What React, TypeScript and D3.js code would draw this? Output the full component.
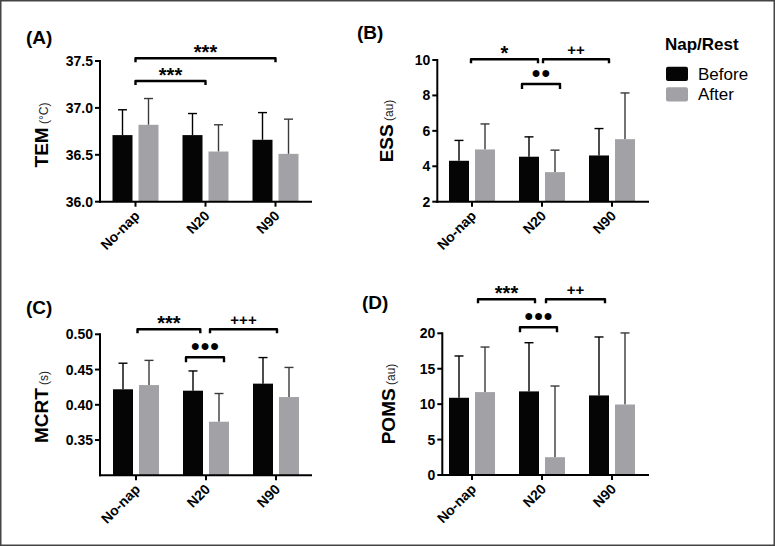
import React from 'react';
import * as d3 from 'd3';

const categories = ['No-nap', 'N20', 'N90'];
const groups = ['Before', 'After'];

const temBefore = [36.71, 36.71, 36.66];
const temBeforeSD = [0.27, 0.23, 0.29];
const temAfter = [36.82, 36.535, 36.51];
const temAfterSD = [0.28, 0.285, 0.37];
const temTicks = [36.0, 36.5, 37.0, 37.5];

const essBefore = [4.31, 4.54, 4.61];
const essBeforeSD = [1.15, 1.12, 1.52];
const essAfter = [4.95, 3.67, 5.53];
const essAfterSD = [1.44, 1.24, 2.61];
const essTicks = [2, 4, 6, 8, 10];

const mcrtBefore = [0.422, 0.42, 0.43];
const mcrtBeforeSD = [0.037, 0.028, 0.037];
const mcrtAfter = [0.428, 0.376, 0.411];
const mcrtAfterSD = [0.035, 0.04, 0.042];
const mcrtTicks = [0.35, 0.4, 0.45, 0.5];

const pomsBefore = [10.9, 11.8, 11.23];
const pomsBeforeSD = [5.9, 6.87, 8.25];
const pomsAfter = [11.7, 2.51, 9.95];
const pomsAfterSD = [6.36, 10.05, 10.1];
const pomsTicks = [0, 5, 10, 15, 20];

const legendTitle = 'Nap/Rest';

const FONT = '"Liberation Sans", Arial, sans-serif';
const COLORS: Record<string, string> = { Before: '#050505', After: '#a2a2a6' };
const ERR_COLORS: Record<string, string> = { Before: '#000', After: '#3a3a3a' };

type Bracket = { a: number; b: number; da: number; db: number; y: number; label: string; drop?: number };

type PanelCfg = {
  title: string;
  titleX: number;
  titleY: number;
  label: string;
  unit: string;
  labelX: number;
  labelY: number;
  axisX: number;
  top: number;
  bottom: number;
  c0: number;
  xEnd: number;
  domain: [number, number];
  ticks: number[];
  fmt: (v: number) => string;
  before: number[];
  beforeSD: number[];
  after: number[];
  afterSD: number[];
  brackets: Bracket[];
};

const panels: PanelCfg[] = [
  {
    title: '(A)', titleX: 26, titleY: 44, label: 'TEM', unit: ' (°C)', labelX: 48, labelY: 135,
    axisX: 100, top: 61, bottom: 201.7, c0: 135.5, xEnd: 312, domain: [36, 37.5], ticks: temTicks,
    fmt: (v) => v.toFixed(1), before: temBefore, beforeSD: temBeforeSD, after: temAfter, afterSD: temAfterSD,
    brackets: [
      { a: 0, b: 2, da: 0, db: 0, y: 58.3, label: '***' },
      { a: 0, b: 1, da: 0, db: 0, y: 81, label: '***' },
    ],
  },
  {
    title: '(B)', titleX: 357, titleY: 39, label: 'ESS', unit: ' (au)', labelX: 393, labelY: 131,
    axisX: 437.3, top: 60, bottom: 201.7, c0: 472, xEnd: 649, domain: [2, 10], ticks: essTicks,
    fmt: (v) => String(v), before: essBefore, beforeSD: essBeforeSD, after: essAfter, afterSD: essAfterSD,
    brackets: [
      { a: 0, b: 1, da: -1, db: -4, y: 59.3, label: '*' },
      { a: 1, b: 2, da: 1, db: -3, y: 59.3, label: '++' },
      { a: 1, b: 1, da: -20, db: 18, y: 84, label: '●●', drop: 5 },
    ],
  },
  {
    title: '(C)', titleX: 26, titleY: 314, label: 'MCRT', unit: ' (s)', labelX: 48, labelY: 407,
    axisX: 100, top: 334.3, bottom: 475.3, c0: 136, xEnd: 312, domain: [0.3, 0.5], ticks: mcrtTicks,
    fmt: (v) => v.toFixed(2), before: mcrtBefore, beforeSD: mcrtBeforeSD, after: mcrtAfter, afterSD: mcrtAfterSD,
    brackets: [
      { a: 0, b: 1, da: 1.5, db: -5.7, y: 329.3, label: '***' },
      { a: 1, b: 2, da: 4, db: 1, y: 329.3, label: '+++' },
      { a: 1, b: 1, da: -20, db: 18, y: 357.3, label: '●●●', drop: 5 },
    ],
  },
  {
    title: '(D)', titleX: 362, titleY: 309, label: 'POMS', unit: ' (au)', labelX: 395, labelY: 404,
    axisX: 442.3, top: 333.3, bottom: 475, c0: 472, xEnd: 649, domain: [0, 20], ticks: pomsTicks,
    fmt: (v) => String(v), before: pomsBefore, beforeSD: pomsBeforeSD, after: pomsAfter, afterSD: pomsAfterSD,
    brackets: [
      { a: 0, b: 1, da: 6, db: -7, y: 299.3, label: '***' },
      { a: 1, b: 2, da: 4, db: -7, y: 299.3, label: '++' },
      { a: 1, b: 1, da: -22, db: 15, y: 327.3, label: '●●●', drop: 5 },
    ],
  },
];

function labelStyle(label: string) {
  if (label.startsWith('*')) return { size: 20, weight: 700, off: 1, family: FONT };
  if (label.startsWith('+')) return { size: 15, weight: 700, off: -4.3, family: FONT };
  return { size: 16, weight: 400, off: -6, family: FONT };
}

function Panel({ cfg }: { cfg: PanelCfg }) {
  const x = d3.scaleBand<string>().domain(categories).range([cfg.c0 - 35, cfg.c0 + 175]).padding(0);
  const center = (i: number) => (x(categories[i]) as number) + x.bandwidth() / 2;
  const xs = d3.scaleBand<string>().domain(groups).range([-23, 23]).paddingInner(6 / 26).paddingOuter(0);
  const y = d3.scaleLinear().domain(cfg.domain).range([cfg.bottom, cfg.top]);
  const series: Record<string, { m: number[]; sd: number[] }> = {
    Before: { m: cfg.before, sd: cfg.beforeSD },
    After: { m: cfg.after, sd: cfg.afterSD },
  };
  const capHalf = 4.5;
  return (
    <g>
      <text x={cfg.titleX} y={cfg.titleY} fontFamily={FONT} fontWeight={700} fontSize={19}>{cfg.title}</text>
      <text transform={`translate(${cfg.labelX},${cfg.labelY}) rotate(-90)`} textAnchor="middle" fontFamily={FONT}>
        <tspan fontWeight={700} fontSize={19}>{cfg.label}</tspan>
        <tspan fontSize={12} fill="#222">{cfg.unit}</tspan>
      </text>
      {categories.map((c, i) =>
        groups.map((g) => {
          const bx = center(i) + (xs(g) as number);
          const bw = xs.bandwidth();
          const m = series[g].m[i];
          const e = m + series[g].sd[i];
          const cx = bx + bw / 2;
          return (
            <g key={c + g}>
              <line x1={cx} x2={cx} y1={y(m)} y2={y(e)} stroke={ERR_COLORS[g]} strokeWidth={1.4} />
              <line x1={cx - capHalf} x2={cx + capHalf} y1={y(e)} y2={y(e)} stroke={ERR_COLORS[g]} strokeWidth={1.4} />
              <rect x={bx} y={y(m)} width={bw} height={cfg.bottom - y(m)} fill={COLORS[g]} />
            </g>
          );
        })
      )}
      <line x1={cfg.axisX} x2={cfg.axisX} y1={cfg.top - 1} y2={cfg.bottom + 1} stroke="#000" strokeWidth={2} />
      {cfg.ticks.map((t) => (
        <g key={t}>
          <line x1={cfg.axisX - 5} x2={cfg.axisX} y1={y(t)} y2={y(t)} stroke="#000" strokeWidth={2} />
          <text x={cfg.axisX - 7} y={y(t)} dy="0.36em" textAnchor="end" fontFamily={FONT} fontWeight={700} fontSize={14}>
            {cfg.fmt(t)}
          </text>
        </g>
      ))}
      <line x1={cfg.axisX - 1} x2={cfg.xEnd} y1={cfg.bottom} y2={cfg.bottom} stroke="#000" strokeWidth={2} />
      {categories.map((c, i) => (
        <g key={c}>
          <line x1={center(i)} x2={center(i)} y1={cfg.bottom} y2={cfg.bottom + 5} stroke="#000" strokeWidth={2} />
          <text
            transform={`translate(${center(i) + 5},${cfg.bottom + 15}) rotate(-45)`}
            textAnchor="end"
            fontFamily={FONT}
            fontWeight={700}
            fontSize={14}
          >
            {c}
          </text>
        </g>
      ))}
      {cfg.brackets.map((b, k) => {
        const x1 = center(b.a) + b.da;
        const x2 = center(b.b) + b.db;
        const drop = b.drop ?? 4;
        const st = labelStyle(b.label);
        return (
          <g key={k}>
            <path
              d={`M${x1},${b.y + drop}V${b.y}H${x2}V${b.y + drop}`}
              fill="none"
              stroke="#000"
              strokeWidth={2.4}
              strokeLinejoin="round"
            />
            <text
              x={(x1 + x2) / 2}
              y={b.y + st.off}
              textAnchor="middle"
              fontFamily={st.family}
              fontWeight={st.weight}
              fontSize={st.size}
            >
              {b.label}
            </text>
          </g>
        );
      })}
    </g>
  );
}

export default function App() {
  return (
    <svg
      width={775}
      height={546}
      viewBox="0 0 775 546"
      style={{ position: 'absolute', left: 0, top: 0, background: '#fff' }}
    >
      <rect x={0} y={0} width={775} height={546} fill="#fff" />
      {panels.map((p) => (
        <Panel key={p.title} cfg={p} />
      ))}
      <g fontFamily={FONT}>
        <text x={665} y={50} fontWeight={700} fontSize={17}>{legendTitle}</text>
        {groups.map((g, i) => (
          <g key={g}>
            <rect x={666} y={66.7 + i * 20.6} width={22} height={14.3} rx={2} fill={COLORS[g]} />
            <text x={698} y={80 + i * 20} fontSize={17}>{g}</text>
          </g>
        ))}
      </g>
      <rect x={0.75} y={0.75} width={773.5} height={544.5} fill="none" stroke="#444" strokeWidth={1.5} />
    </svg>
  );
}
